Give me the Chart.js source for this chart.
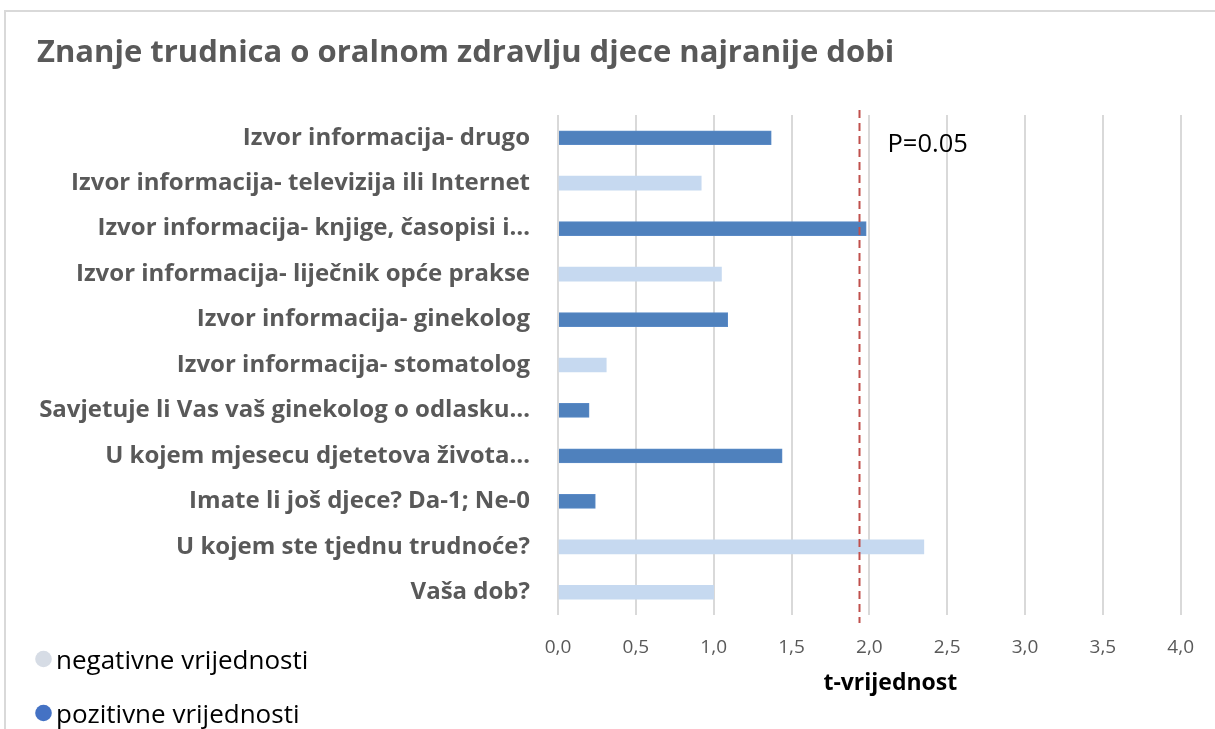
<!DOCTYPE html>
<html>
<head>
<meta charset="utf-8">
<script src="https://cdn.jsdelivr.net/npm/chart.js@4.4.0/dist/chart.umd.min.js"></script>
<style>
  html, body { margin: 0; padding: 0; background: #fff; overflow: hidden; }
  #frame { position: absolute; left: 4px; top: 10px; width: 1300px; height: 800px; border: 2px solid #d9d9d9; }
  #wrap { position: absolute; left: 0; top: 0; width: 1215px; height: 729px; }
</style>
</head>
<body>
<div id="frame"></div>
<div id="wrap"><canvas id="chart"></canvas></div>
<script>
const categories = [
    'Izvor informacija- drugo',
    'Izvor informacija- televizija ili Internet',
    'Izvor informacija- knjige, časopisi i…',
    'Izvor informacija- liječnik opće prakse',
    'Izvor informacija- ginekolog',
    'Izvor informacija- stomatolog',
    'Savjetuje li Vas vaš ginekolog o odlasku…',
    'U kojem mjesecu djetetova života…',
    'Imate li još djece? Da-1; Ne-0',
    'U kojem ste tjednu trudnoće?',
    'Vaša dob?'
];
const seriesNames = ['negativne vrijednosti', 'pozitivne vrijednosti'];
const negativeValues = [null, 0.92, null, 1.05, null, 0.31, null, null, null, 2.35, 1.00];
const positiveValues = [1.37, null, 1.98, null, 1.09, null, 0.20, 1.44, 0.24, null, null];
const xTicks = [0, 0.5, 1, 1.5, 2, 2.5, 3, 3.5, 4];
const xTitle = 't-vrijednost';
const pValue = 1.94;
const pLabel = 'P=0.05';

const FONT = "'Open Sans', sans-serif";
const legendColors = ['#d6dce5', '#4472c4'];

// dashed critical-value line with its label
const pLinePlugin = {
    id: 'pLine',
    afterDatasetsDraw(chart) {
        const { ctx, chartArea, scales } = chart;
        const x = Math.round(scales.x.getPixelForValue(pValue)) - 0.5;
        ctx.save();
        ctx.strokeStyle = '#c0504d';
        ctx.lineWidth = 2;
        ctx.setLineDash([8, 5]);
        ctx.beginPath();
        ctx.moveTo(x, chartArea.top - 5);
        ctx.lineTo(x, chartArea.bottom + 8);
        ctx.stroke();
        ctx.setLineDash([]);
        ctx.fillStyle = '#000';
        ctx.font = '25.5px ' + FONT;
        ctx.textBaseline = 'alphabetic';
        ctx.fillText(pLabel, x + 28, chartArea.top + 37);
        ctx.restore();
    }
};

// x-axis title, sitting a bit right of the plot centre like the original
const axisTitle = {
    id: 'axisTitle',
    afterDraw(chart) {
        const { ctx, chartArea } = chart;
        ctx.save();
        ctx.font = 'bold 23px ' + FONT;
        ctx.fillStyle = '#000';
        ctx.textAlign = 'center';
        ctx.textBaseline = 'alphabetic';
        ctx.fillText(xTitle, (chartArea.left + chartArea.right) / 2 + 21, chartArea.bottom + 75);
        ctx.restore();
    }
};

// legend stacked in the lower-left corner
const cornerLegend = {
    id: 'cornerLegend',
    afterDraw(chart) {
        const { ctx } = chart;
        ctx.save();
        ctx.font = '26px ' + FONT;
        ctx.textBaseline = 'alphabetic';
        chart.data.datasets.forEach((ds, i) => {
            const y = 659 + i * 54;
            ctx.fillStyle = legendColors[i];
            ctx.beginPath();
            ctx.arc(43.5, y, 8.3, 0, Math.PI * 2);
            ctx.fill();
            ctx.fillStyle = '#000';
            ctx.fillText(ds.label, 56, y + 10);
        });
        ctx.restore();
    }
};

const ctx = document.getElementById('chart').getContext('2d');
new Chart(ctx, {
    type: 'bar',
    data: {
        labels: categories,
        datasets: [{
            label: seriesNames[0],
            data: negativeValues,
            backgroundColor: '#c6d9f0',
            barThickness: 14,
            grouped: false
        }, {
            label: seriesNames[1],
            data: positiveValues,
            backgroundColor: '#4f81bd',
            borderColor: '#5a8ac6',
            borderWidth: 1,
            barThickness: 14,
            grouped: false
        }]
    },
    options: {
        indexAxis: 'y',
        responsive: true,
        maintainAspectRatio: false,
        animation: false,
        layout: { padding: { left: 37, right: 30, top: 0, bottom: 0 } },
        plugins: {
            legend: { display: false },
            tooltip: { enabled: false },
            title: {
                display: true,
                text: 'Znanje trudnica o oralnom zdravlju djece najranije dobi',
                align: 'start',
                color: '#595959',
                font: { family: FONT, size: 31, weight: 'bold', lineHeight: 1.2 },
                padding: { top: 35, bottom: 42.8 }
            }
        },
        scales: {
            x: {
                min: 0,
                max: 4,
                afterBuildTicks(scale) {
                    scale.ticks = xTicks.map(v => ({ value: v }));
                },
                afterFit(scale) { scale.height = 114; },
                grid: { color: '#d9d9d9', lineWidth: 2, drawTicks: false },
                border: { display: false },
                ticks: {
                    padding: 21,
                    color: '#595959',
                    font: { family: FONT, size: 19 },
                    callback: v => v.toFixed(1).replace('.', ',')
                }
            },
            y: {
                afterFit(scale) { scale.width = 521; },
                grid: { display: false, drawTicks: false },
                border: { display: false },
                ticks: {
                    padding: 28,
                    color: '#595959',
                    font: { family: FONT, size: 24, weight: 'bold' }
                }
            }
        }
    },
    plugins: [pLinePlugin, axisTitle, cornerLegend]
});
</script>
</body>
</html>
